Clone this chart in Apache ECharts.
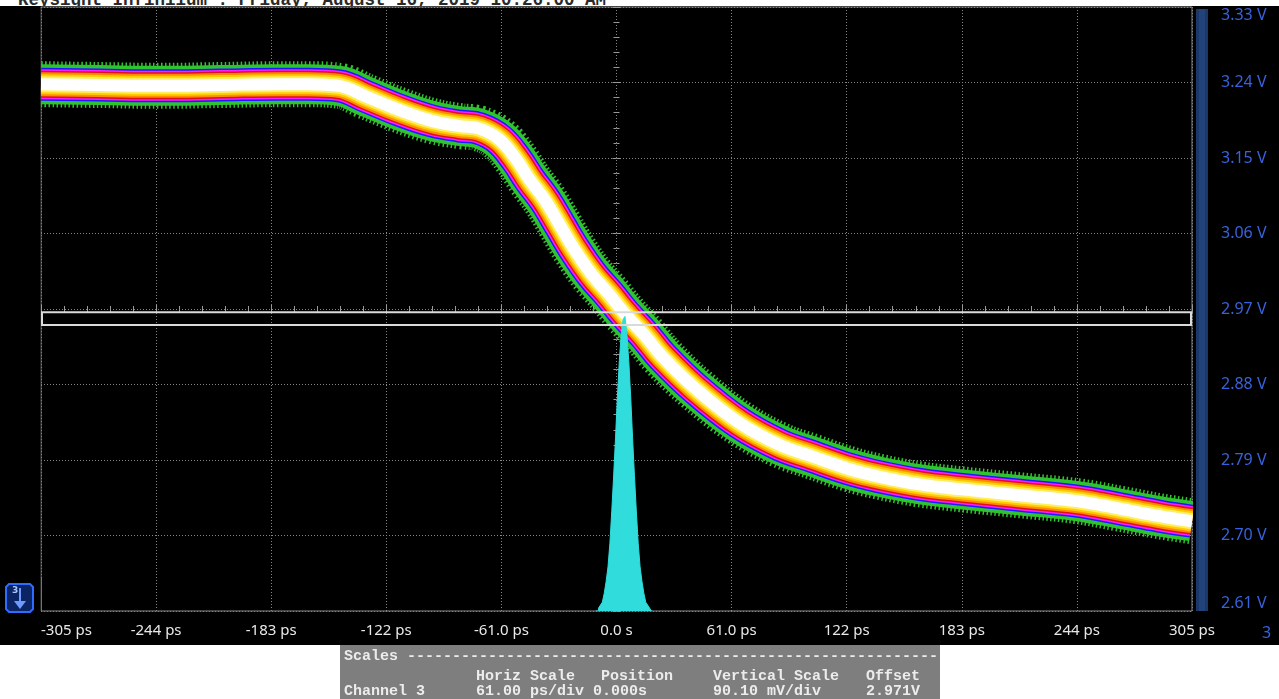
<!DOCTYPE html>
<html><head><meta charset="utf-8">
<script src="https://cdn.jsdelivr.net/npm/echarts@6/dist/echarts.min.js"></script>
<style>
html,body{margin:0;padding:0;background:#fff;width:1279px;height:699px;overflow:hidden}
#bg{position:absolute;left:0;top:6px;width:1279px;height:639px;background:#000}
#top{position:absolute;left:0;top:0;width:1279px;height:6px;overflow:hidden}
#top span{position:absolute;left:18px;top:-10px;font:bold 17.5px "Liberation Mono",monospace;color:#2a2a2a;white-space:pre}
#chart{position:absolute;left:0;top:0;width:1279px;height:699px}
</style></head><body>
<div id="bg"></div>
<div id="top"><span>Keysight Infiniium : Friday, August 16, 2019 10:26:00 AM</span></div>
<div id="chart"></div>
<script>
// ---- axis definitions ----
const timeMin = -305, timeMax = 305, timeStep = 61;
const timeLabels = ['-305 ps','-244 ps','-183 ps','-122 ps','-61.0 ps','0.0 s','61.0 ps','122 ps','183 ps','244 ps','305 ps'];
const voltMin = 2.61, voltMax = 3.33, voltStep = 0.09;
const voltLabels = ['2.61 V','2.70 V','2.79 V','2.88 V','2.97 V','3.06 V','3.15 V','3.24 V','3.33 V'];

// ---- waveform (persistence band centre), time in ps, volts ----
const waveTime = [-305,-274,-242,-210,-179,-163,-147,-132.5,-115,-97.5,-83,-72.6,-62,-53,-46,-38,-30,-22,-13,-3.7,4.2,14.8,24.4,42.4,65.2,86.4,104,123.5,139.4,160.6,183,213.6,244,266.6,287.8,305];
const waveVolt = [3.238,3.237,3.236,3.237,3.238,3.238,3.236,3.223,3.207,3.194,3.188,3.185,3.172,3.148,3.124,3.100,3.070,3.040,3.011,2.987,2.965,2.939,2.913,2.874,2.834,2.808,2.794,2.779,2.770,2.761,2.755,2.748,2.741,2.732,2.723,2.717];

// ---- crossing-time histogram ----
const histTime  = [-11,-10,-9,-8,-7,-6,-5,-4,-3,-2,-1,0,1,2,3,4,5,6,7,8,9,10,11,12,13,14,15,16,17,18,19];
const histCount = [0,0,1,2,3,6,10,15,23,34,46,59,73,85,94,99,100,94,85,73,59,46,34,23,15,10,6,3,2,1,0];
const histAxisMax = 205;

// ---- histogram window box ----
const boxTime = [-305, 305];
const boxVolt = [2.966, 2.951];

const wavePts = waveTime.map((t, i) => [t, waveVolt[i]]);
const histPts = histTime.map((t, i) => [t, histCount[i]]);

const bandLayers = [
  {c:'#2fc42f', w:46, dash:[1.5,2.5]},
  {c:'#2fc42f', w:40},
  {c:'#1a1aff', w:33},
  {c:'#ff1aff', w:30},
  {c:'#e0101a', w:27},
  {c:'#ff8a00', w:24},
  {c:'#ffcc00', w:20},
  {c:'#ffef60', w:16},
  {c:'#ffffff', w:12}
];

const chart = echarts.init(document.getElementById('chart'), null, {renderer:'canvas'});

const tickAxisX = (inside) => ({
  type:'value', gridIndex:0, min:timeMin, max:timeMax, interval:timeStep,
  position:'bottom', offset:-302,
  axisLine:{show:false}, axisLabel:{show:false}, splitLine:{show:false},
  axisTick:{show:true, inside:inside, length:4, lineStyle:{color:'#9a9a9a'}},
  minorTick:{show:true, splitNumber:5, length:3, lineStyle:{color:'#9a9a9a'}}
});
const tickAxisY = (inside) => ({
  type:'value', gridIndex:0, min:voltMin, max:voltMax, interval:voltStep,
  position:'left', offset:-575.5,
  axisLine:{show:false}, axisLabel:{show:false}, splitLine:{show:false},
  axisTick:{show:true, inside:inside, length:4, lineStyle:{color:'#9a9a9a'}},
  minorTick:{show:true, splitNumber:5, length:3, lineStyle:{color:'#9a9a9a'}}
});

const panelFont = 'bold 15px "Liberation Mono", monospace';
const panelText = (txt, x, y) => ({type:'text', x:x, y:y, z:20, style:{text:txt, font:panelFont, fill:'#ececec', verticalAlign:'middle'}});

const option = {
  backgroundColor:'transparent',
  animation:false,
  grid:{left:41, right:87, top:7, bottom:88, show:true, borderColor:'#8a8a8a', borderWidth:1, backgroundColor:'transparent', outerBoundsMode:'none', containLabel:false},
  xAxis:[
    {type:'value', gridIndex:0, min:timeMin, max:timeMax, interval:timeStep, position:'bottom',
     axisLine:{show:false}, axisTick:{show:false},
     axisLabel:{color:'#e8e8e8', fontSize:15, fontFamily:'"Noto Sans", sans-serif', margin:12, alignMinLabel:'left', alignMaxLabel:'center',
       formatter:v => timeLabels[Math.round((v - timeMin)/timeStep)]},
     splitLine:{show:true, lineStyle:{color:'#858585', width:1, type:[1,2]}}},
    tickAxisX(true), tickAxisX(false)
  ],
  yAxis:[
    {type:'value', gridIndex:0, min:voltMin, max:voltMax, interval:voltStep, position:'right',
     axisLine:{show:false}, axisTick:{show:false},
     axisLabel:{color:'#3862dc', fontSize:16, fontFamily:'"Noto Sans", sans-serif', margin:29,
       verticalAlignMinLabel:'bottom', verticalAlignMaxLabel:'top',
       formatter:v => voltLabels[Math.round((v - voltMin)/voltStep)]},
     splitLine:{show:true, lineStyle:{color:'#858585', width:1, type:[1,2]}}},
    tickAxisY(true), tickAxisY(false),
    {type:'value', gridIndex:0, min:0, max:histAxisMax, show:false}
  ],
  series:[
    ...bandLayers.map(l => ({
      type:'line', xAxisIndex:0, yAxisIndex:0, data:wavePts, smooth:0.4,
      symbol:'none', silent:true, z:2,
      lineStyle:{color:l.c, width:l.w, type:l.dash || 'solid', cap:'butt', join:'round'}
    })),
    {type:'line', xAxisIndex:0, yAxisIndex:3, data:histPts, step:'middle', symbol:'none', silent:true, z:5,
     lineStyle:{color:'#30dcdc', width:1}, areaStyle:{color:'#30dcdc', opacity:1, origin:'start'}},
    {type:'custom', xAxisIndex:0, yAxisIndex:0, z:6, clip:false, silent:true,
     data:[[boxTime[0], boxVolt[0], boxTime[1], boxVolt[1]]],
     encode:{x:[0,2], y:[1,3]},
     renderItem:(params, api) => {
       const p1 = api.coord([api.value(0), api.value(1)]);
       const p2 = api.coord([api.value(2), api.value(3)]);
       return {type:'rect', shape:{x:p1[0]+1, y:p1[1], width:p2[0]-p1[0]-2, height:p2[1]-p1[1]},
               style:{fill:'none', stroke:'#dadada', lineWidth:2}};
     }}
  ],
  graphic:[
    {type:'rect', z:20, shape:{x:1193, y:8, width:3, height:603}, style:{fill:'#000'}},
    {type:'rect', z:20, shape:{x:10, y:8, width:30.5, height:603}, style:{fill:'#000'}},
    {type:'rect', z:21, shape:{x:1196, y:9, width:12, height:602}, style:{fill:'#1c3868'}},
    {type:'rect', z:21, shape:{x:1199, y:9, width:6, height:602}, style:{fill:'#22427a'}},
    {type:'text', z:21, x:1262, y:633, style:{text:'3', font:'16px "Noto Sans", sans-serif', fill:'#3862dc', verticalAlign:'middle'}},
    {type:'line', z:21, shape:{x1:41.5, y1:578, x2:41.5, y2:611}, style:{stroke:'#b8602a', lineWidth:1}},
    {type:'polygon', z:21, shape:{points:[[9,584],[30,584],[33,587],[33,609],[30,612],[9,612],[6,609],[6,587]]},
     style:{fill:'#0b2463', stroke:'#2e6bff', lineWidth:2}},
    {type:'text', z:22, x:12, y:591, style:{text:'3', font:'bold 9px "DejaVu Sans", sans-serif', fill:'#a8c6ff', verticalAlign:'middle'}},
    {type:'line', z:22, shape:{x1:20, y1:588, x2:20, y2:604}, style:{stroke:'#6f9bff', lineWidth:2}},
    {type:'polygon', z:22, shape:{points:[[14,601],[26,601],[20,609]]}, style:{fill:'#6f9bff'}},
    {type:'rect', z:20, shape:{x:340, y:645, width:600, height:54}, style:{fill:'#7e7e7e'}},
    panelText('Scales -----------------------------------------------------------', 344, 656),
    panelText('Horiz Scale', 476, 676),
    panelText('Position', 601, 676),
    panelText('Vertical Scale', 713, 676),
    panelText('Offset', 866, 676),
    panelText('Channel 3', 344, 691),
    panelText('61.00 ps/div', 476, 691),
    panelText('0.000s', 593, 691),
    panelText('90.10 mV/div', 713, 691),
    panelText('2.971V', 866, 691)
  ]
};
chart.setOption(option);
</script>
</body></html>
